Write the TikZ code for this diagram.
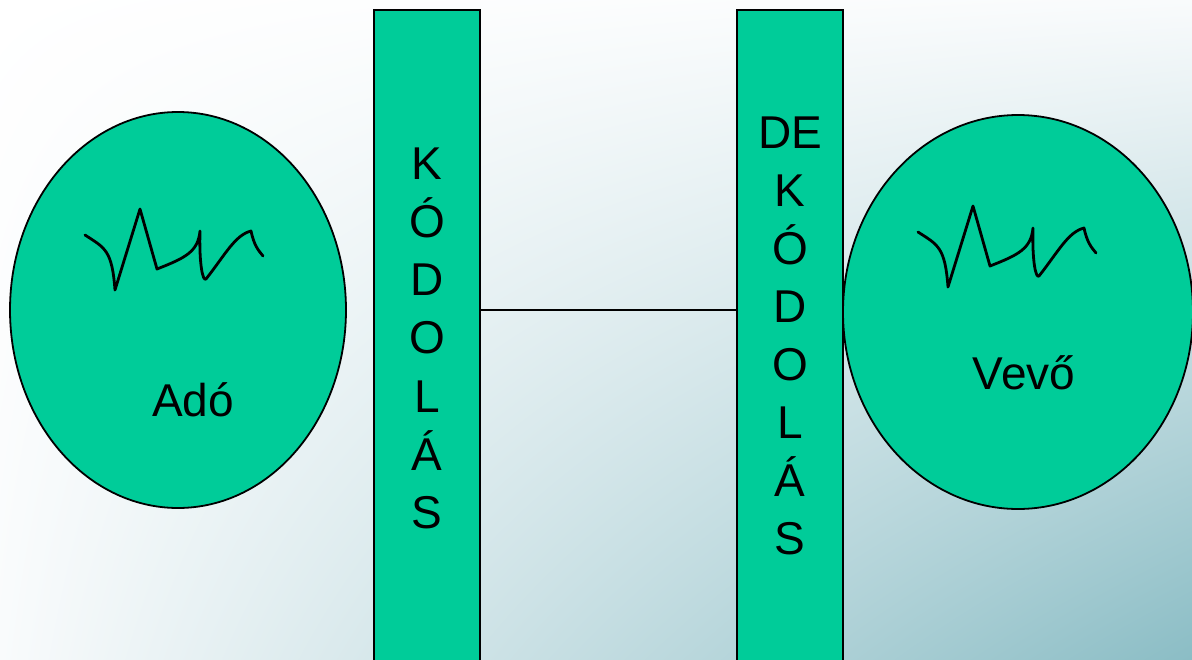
\documentclass[tikz,border=0pt]{standalone}
\usepackage{fontspec}
\setmainfont{Liberation Sans}
\usepackage{tikz}
\usetikzlibrary{shapes.geometric,shadings,calc}
\definecolor{jelzold}{HTML}{00CC99}
\definecolor{hatter}{HTML}{8BBDC5}
\definecolor{hatterv}{HTML}{F9FBFC}

\begin{document}
\begin{tikzpicture}[x=1pt,y=-1pt,
  felek/.style={ellipse, draw, line width=1.8pt, fill=jelzold},
  kodolo/.style={rectangle, draw, line width=2.4pt, fill=jelzold, minimum width=106pt, minimum height=680pt},
  betu/.style={anchor=base, inner sep=0pt, font=\fontsize{46}{52}\selectfont},
  jel/.style={line width=2.8pt, line join=round, line cap=round}]
  \useasboundingbox (0,0) rectangle (1192,659);
  \clip (0,0) rectangle (1192,659);
  \shade[upper left=white, upper right=hatterv, lower left=hatterv, lower right=hatter] (0,0) rectangle (1192,659);
  % adó és vevő
  \node[felek, minimum width=336pt, minimum height=396pt] (ado) at (178,310) {};
  \node[felek, minimum width=350pt, minimum height=394pt] (vevo) at (1018,312) {};
  % kódoló oszlopok
  \node[kodolo, anchor=north] (kod) at (427,9) {};
  \node[kodolo, anchor=north] (dekod) at (790,9) {};
  \draw[line width=1.8pt] (kod.east |- ado.center) -- (dekod.west |- ado.center);
  \foreach \l [count=\i] in {K,Ó,D,O,L,Á,S}
    \node[betu] (k\i) at (427,{179+58.3*(\i-1)}) {\l};
  \foreach \l [count=\i] in {DE,K,Ó,D,O,L,Á,S}
    \node[betu] (d\i) at (790,{148+58*(\i-1)}) {\l};
  \node[betu] (adotxt) at (193,416) {Adó};
  \node[betu] (vevotxt) at (1024,389) {Vevő};
  % jelalak
  \foreach \dx/\dy in {0/0, 833/-3}
    \draw[jel, shift={(\dx,\dy)}] (85,235) .. controls (105,248) and (112,250) .. (115,290)
      -- (140,209) -- (157,269) .. controls (185,258) and (198,252) .. (200,231)
      .. controls (199,265) and (203,282) .. (206,279) .. controls (225,255) and (235,235) .. (251,231)
      .. controls (254,245) and (258,250) .. (263,256);
\end{tikzpicture}
\end{document}
